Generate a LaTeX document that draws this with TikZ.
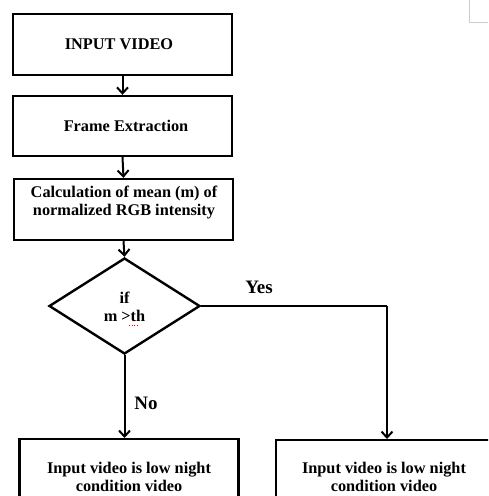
\documentclass[tikz,border=0pt]{standalone}
\usepackage{fontspec}
\setmainfont{Liberation Serif}
\usetikzlibrary{shapes.geometric,arrows.meta}
\begin{document}
\begin{tikzpicture}[x=1pt,y=-1pt,
  box/.style={draw,line width=2.4pt,minimum width=219pt,inner sep=0pt},
  txt/.style={font=\bfseries\fontsize{16.3}{18}\selectfont,align=center,inner sep=0pt},
  lbl/.style={font=\bfseries\fontsize{19}{22}\selectfont,inner sep=0pt},
  arr/.style={line width=2pt,-{Straight Barb[length=6pt,width=11pt,line width=2pt]}},
  ln/.style={line width=2pt}]
\useasboundingbox (0,0) rectangle (488,496);
\clip (0,0) rectangle (488,496);
\draw[gray!40,line width=1pt] (469,0) -- (469,22) -- (488,22);
\node[box,minimum height=61pt] (b1) at (122.5,44.5) {};
\node[txt] (t1) at (119,44.5) {INPUT VIDEO};
\node[box,minimum height=60pt] (b2) at (122.5,126) {};
\node[txt] (t2) at (126,126) {Frame Extraction};
\node[box,minimum height=61pt] (b3) at (123.5,209.5) {};
\node[txt] (t3) at (124,202.5) {Calculation of mean (m) of\\normalized RGB intensity};
\node[draw,diamond,line width=2.4pt,minimum width=151pt,minimum height=96pt,inner sep=0pt] (d) at (124.5,306) {};
\node[txt] (td) at (124.5,306.5) {if\\m >th};
\draw[red,line width=0.6pt,dotted] (129,325) -- (138,325);
\node[box,minimum height=62pt,anchor=north] (b4) at (129,438) {};
\node[txt] (t4) at (129,477) {Input video is low night\\condition video};
\node[box,minimum height=62pt,anchor=north] (b5) at (385.5,439) {};
\node[txt] (t5) at (384,477) {Input video is low night\\condition video};
\coordinate (c1) at (387,306);
\draw[arr] (b1.south) -- (b2.north);
\draw[arr] (b2.south) -- (b3.north);
\draw[arr] (b3.south) -- (d.north);
\draw[arr] (d.south) -- (b4.north -| d.south);
\draw[ln] (d.east) -- (c1);
\draw[arr] (c1) -- (c1 |- b5.north);
\node[lbl] (yes) at (259,287) {Yes};
\node[lbl] (no) at (146,403) {No};
\end{tikzpicture}
\end{document}
